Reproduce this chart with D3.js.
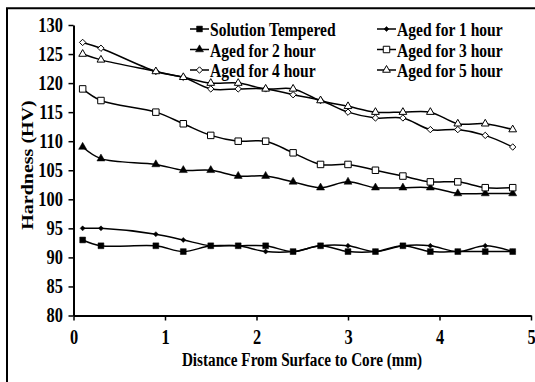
<!DOCTYPE html>
<html><head><meta charset="utf-8">
<script src="https://cdn.jsdelivr.net/npm/d3@7"></script>
<style>
html,body{margin:0;padding:0;background:#fff;}
svg{display:block;}
text{font-family:"Liberation Serif","Times New Roman",serif;font-weight:bold;fill:#000;}
</style></head>
<body>
<svg id="chart" width="535" height="382"></svg>
<script>
const distances = [0.1,0.3,0.9,1.2,1.5,1.8,2.1,2.4,2.7,3.0,3.3,3.6,3.9,4.2,4.5,4.8];
const solutionTempered = [93,92,92,91,92,92,92,91,92,91,91,92,91,91,91,91];
const aged1 = [95,95,94,93,92,92,91,91,92,92,91,92,92,91,92,91];
const aged2 = [109,107,106,105,105,104,104,103,102,103,102,102,102,101,101,101];
const aged3 = [119,117,115,113,111,110,110,108,106,106,105,104,103,103,102,102];
const aged4 = [127,126,122,121,119,119,119,118,117,115,114,114,112,112,111,109];
const aged5 = [125,124,122,121,120,120,119,119,117,116,115,115,115,113,113,112];
const seriesNames = ["Solution Tempered","Aged for 1 hour","Aged for 2 hour","Aged for 3 hour","Aged for 4 hour","Aged for 5 hour"];
const xTicks = [0,1,2,3,4,5];
const yTicks = [80,85,90,95,100,105,110,115,120,125,130];
const xTitle = "Distance From Surface to Core (mm)";
const yTitle = "Hardness (HV)";

const seriesValues = [solutionTempered, aged1, aged2, aged3, aged4, aged5];
const markerStyles = [
  {type:d3.symbolSquare, size:34, fill:"#000"},
  {type:d3.symbolDiamond2, size:16, fill:"#000"},
  {type:d3.symbolTriangle, size:28, fill:"#000"},
  {type:d3.symbolSquare, size:42, fill:"#fff"},
  {type:d3.symbolDiamond2, size:26, fill:"#fff"},
  {type:d3.symbolTriangle, size:26, fill:"#fff"}
];

const svg = d3.select("#chart");
const SX = 0.82;

svg.append("rect").attr("x",0).attr("y",0).attr("width",535).attr("height",382).attr("fill","#fff");
svg.append("path").attr("d","M7,382V8.3H535").attr("fill","none").attr("stroke","#000").attr("stroke-width",2);

const x = d3.scaleLinear().domain([0,5]).range([73.5,531]);
const y = d3.scaleLinear().domain([80,130]).range([315.5,25]);

const gx = svg.append("g").attr("transform",`translate(0,${y(80)})`)
  .call(d3.axisBottom(x).tickValues(xTicks).tickSize(5).tickSizeOuter(0).tickPadding(9).tickFormat(d3.format("d")));
const gy = svg.append("g").attr("transform",`translate(${x(0)},0)`)
  .call(d3.axisLeft(y).tickValues(yTicks).tickSize(5).tickSizeOuter(0).tickPadding(8).tickFormat(d3.format("d")));
[gx,gy].forEach(g=>{
  g.select(".domain").attr("stroke","#000").attr("stroke-width",2);
  g.selectAll(".tick line").attr("stroke","#000").attr("stroke-width",1.5);
  g.selectAll(".tick text").attr("font-size",20).attr("font-family",null)
    .attr("transform",`scale(${SX},1)`);
});

svg.append("text").attr("transform",`translate(302,366) scale(0.8,1)`)
  .attr("text-anchor","middle").attr("font-size",19).text(xTitle);
svg.append("text").attr("transform",`translate(33,165) scale(0.8,1) rotate(-90)`)
  .attr("text-anchor","middle").attr("font-size",20).text(yTitle);

const line = d3.line().x(d=>x(d[0])).y(d=>y(d[1])).curve(d3.curveCatmullRom.alpha(0.5));

seriesValues.forEach((vals,i)=>{
  const pts = distances.map((d,j)=>[d, vals[j]]);
  const g = svg.append("g");
  g.append("path").attr("d",line(pts)).attr("fill","none").attr("stroke","#000").attr("stroke-width",1.5);
  const m = markerStyles[i];
  g.selectAll("path.m").data(pts).enter().append("path").attr("class","m")
    .attr("transform",d=>`translate(${x(d[0])},${y(d[1])})`)
    .attr("d",d3.symbol().type(m.type).size(m.size)())
    .attr("fill",m.fill).attr("stroke","#000").attr("stroke-width",m.fill==="#fff"?1:0.5);
});

const legCols = [190, 377];
const legRows = [36, 56.5, 77];
seriesNames.forEach((name,i)=>{
  const cx = legCols[i%2], by = legRows[Math.floor(i/2)];
  const ly = by - 7;
  const g = svg.append("g");
  g.append("line").attr("x1",cx).attr("x2",cx+19).attr("y1",ly).attr("y2",ly).attr("stroke","#000").attr("stroke-width",1.5);
  const m = markerStyles[i];
  g.append("path").attr("transform",`translate(${cx+9.5},${ly})`)
    .attr("d",d3.symbol().type(m.type).size(m.size)())
    .attr("fill",m.fill).attr("stroke","#000").attr("stroke-width",m.fill==="#fff"?1:0.5);
  g.append("text").attr("transform",`translate(${cx+20},${by}) scale(${SX},1)`)
    .attr("font-size",19).text(name);
});
</script>
</body></html>
